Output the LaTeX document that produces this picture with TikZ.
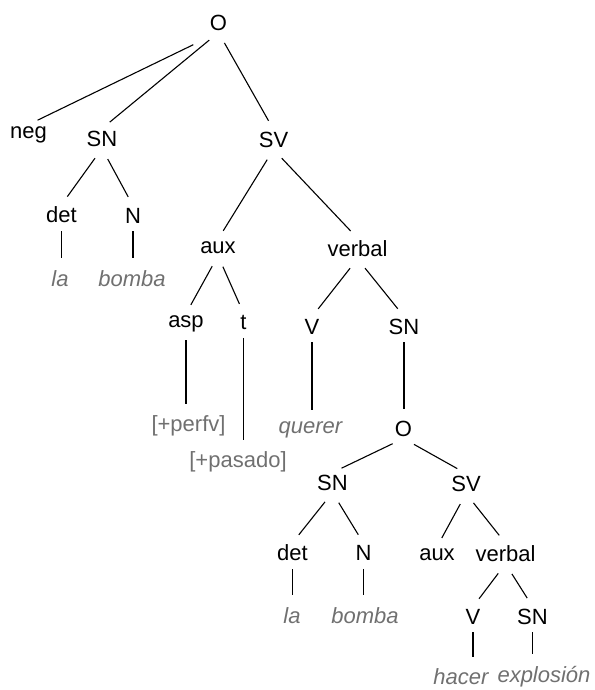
\documentclass[tikz,border=0pt]{standalone}
\usepackage{fontspec}
\setmainfont{Liberation Sans}
\usepackage{xcolor}
\definecolor{leafgray}{RGB}{112,112,112}

\begin{document}
\begin{tikzpicture}[
  x=1pt, y=-1pt,
  cat/.style={inner sep=2pt, font=\fontsize{22}{26}\selectfont},
  leaf/.style={cat, text=leafgray, font=\fontsize{22}{26}\selectfont\itshape},
  feat/.style={cat, text=leafgray},
  branch/.style={line width=1.1pt, shorten <=12pt, shorten >=10pt},
  unary/.style={line width=1.1pt, shorten <=6pt, shorten >=10pt}
]
\useasboundingbox (0,0) rectangle (594,690);

% Top clause
\node[cat] (o1) at (218.5,22.5) {O};
\node[cat] (neg) at (28.5,135) {neg};
\node[cat] (sn1) at (102,138.5) {SN};
\node[cat] (sv1) at (273.5,139.5) {SV};

% Subject
\node[cat] (det1) at (61.5,215) {det};
\node[cat] (n1) at (133,215.5) {N};
\node[leaf] (la1) at (60,278.5) {la};
\node[leaf] (bomba1) at (132,278.5) {bomba};

% Verb phrase
\node[cat] (aux1) at (218,247.5) {aux};
\node[cat] (verbal1) at (357.5,248.5) {verbal};
\node[cat] (asp) at (186,324) {asp};
\node[cat] (t) at (243.5,322.5) {t};
\node[feat] (perfv) at (188.5,426) {[+perfv]};
\node[feat] (pasado) at (238,462) {[+pasado]};
\node[cat] (v1) at (312,326.5) {V};
\node[cat] (sn2) at (404,326.5) {SN};
\node[leaf] (querer) at (310.5,430) {querer};

% Embedded clause
\node[cat] (o2) at (403.5,428.5) {O};
\node[cat] (sn3) at (332.5,482.5) {SN};
\node[cat] (sv2) at (466,483.5) {SV};
\node[cat] (det2) at (292.5,553) {det};
\node[cat] (n2) at (363.5,553) {N};
\node[leaf] (la2) at (292,615.5) {la};
\node[leaf] (bomba2) at (365,615.5) {bomba};
\node[cat] (aux2) at (437,555) {aux};
\node[cat] (verbal2) at (505.5,553.5) {verbal};
\node[cat] (v2) at (473,616.5) {V};
\node[cat] (sn4) at (532.5,616.5) {SN};
\node[leaf] (hacer) at (461,677) {hacer};
\node[leaf] (explosion) at (544,677) {explosión};

% Branches
\draw[branch, shorten <=28pt] (o1.south) -- (neg.north);
\draw[branch] (o1.south) -- (sn1.north);
\draw[branch] (o1.south) -- (sv1.north);
\draw[branch] (sn1.south) -- (det1.north);
\draw[branch] (sn1.south) -- (n1.north);
\draw[unary] (det1.south) -- (det1.south |- la1.north);
\draw[unary] (n1.south) -- (n1.south |- bomba1.north);
\draw[branch] (sv1.south) -- (aux1.north);
\draw[branch] (sv1.south) -- (verbal1.north);
\draw[branch] (aux1.south) -- (asp.north);
\draw[branch] (aux1.south) -- (t.north);
\draw[unary] (asp.south) -- (asp.south |- perfv.north);
\draw[unary] (t.south) -- (t.south |- pasado.north);
\draw[branch] (verbal1.south) -- (v1.north);
\draw[branch] (verbal1.south) -- (sn2.north);
\draw[unary] (v1.south) -- (v1.south |- querer.north);
\draw[unary] (sn2.south) -- (sn2.south |- o2.north);
\draw[branch] (o2.south) -- (sn3.north);
\draw[branch] (o2.south) -- (sv2.north);
\draw[branch] (sn3.south) -- (det2.north);
\draw[branch] (sn3.south) -- (n2.north);
\draw[unary] (det2.south) -- (det2.south |- la2.north);
\draw[unary] (n2.south) -- (n2.south |- bomba2.north);
\draw[branch] (sv2.south) -- (aux2.north);
\draw[branch] (sv2.south) -- (verbal2.north);
\draw[branch] (verbal2.south) -- (v2.north);
\draw[branch] (verbal2.south) -- (sn4.north);
\draw[unary] (v2.south) -- (v2.south |- hacer.north);
\draw[unary] (sn4.south) -- (sn4.south |- explosion.north);

\end{tikzpicture}
\end{document}
